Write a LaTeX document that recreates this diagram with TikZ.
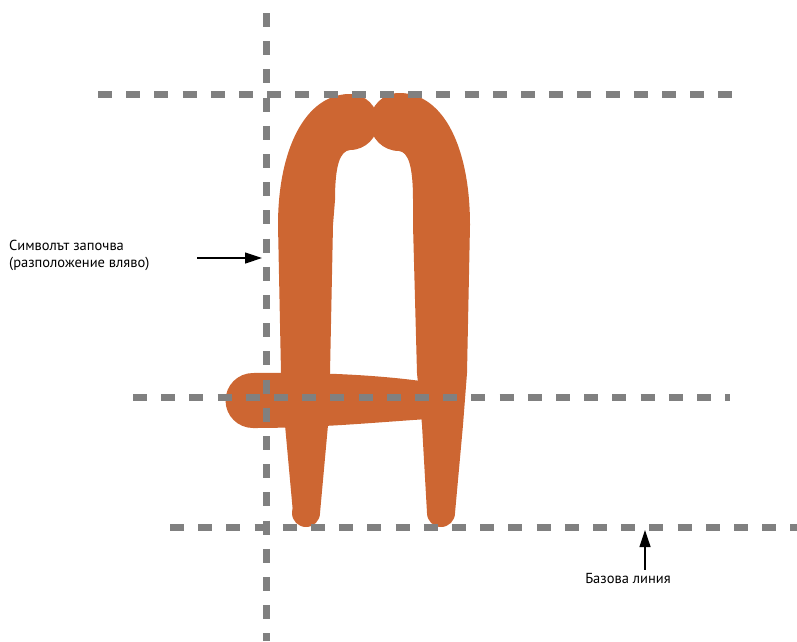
\documentclass[tikz,border=0pt]{standalone}
\usepackage{fontspec}
\setmainfont{PT Sans}
\usetikzlibrary{arrows.meta}
\definecolor{glyphc}{RGB}{205,102,50}
\definecolor{guidec}{RGB}{128,128,128}
\tikzset{
  glyph/.style={fill=glyphc, draw=none},
  guide/.style={draw=guidec, line width=7pt, dash pattern=on 14pt off 14.2pt},
  lbl/.style={inner sep=0pt, font=\fontsize{14.5}{17}\selectfont, text=black},
  pointer/.style={draw=black, line width=1.2pt, -{Triangle[length=17pt,width=11pt]}}
}
\begin{document}
\begin{tikzpicture}[x=1pt,y=-1pt]
\useasboundingbox (0,0) rectangle (797,641);
% glyph
\fill[glyph] (293,513) -- (285,425) -- (281,373) -- (278,225)
  .. controls (278,150) and (305,94) .. (350,94) -- (350,150)
  .. controls (340,151) and (335,165) .. (335,200) -- (333,225) -- (330,373) -- (328,425) -- (320,513) -- cycle;
\fill[glyph] (455,513) -- (463,425) -- (467,373) -- (470,225)
  .. controls (470,150) and (445,93) .. (399,93) -- (399,151)
  .. controls (408,152) and (413,165) .. (413,200) -- (413,225) -- (417,373) -- (422,425) -- (427,513) -- cycle;
\fill[glyph] (350,122) circle[radius=28];
\fill[glyph] (399,122) circle[radius=29];
\fill[glyph] (306,513) circle[radius=14];
\fill[glyph] (441,513) circle[radius=14];
\fill[glyph] (253,373) .. controls (320,372) and (380,375) .. (428,382) -- (428,419)
  .. controls (380,422) and (320,428) .. (253,428) -- cycle;
\fill[glyph] (253,400.5) circle[radius=27.5];
% guide lines
\coordinate (vTop) at (266,13);
\coordinate (vBot) at (266,641);
\coordinate (hAs) at (98,94);
\coordinate (hAe) at (732,94);
\coordinate (hMs) at (133,397);
\coordinate (hMe) at (730,397);
\coordinate (hBs) at (170,527);
\coordinate (hBe) at (797,527);
\draw[guide] (vTop) -- (vBot);
\draw[guide] (hAs) -- (hAe);
\draw[guide] (hMs) -- (hMe);
\draw[guide] (hBs) -- (hBe);
% labels
\node[lbl, anchor=base west] (l1) at (9,250) {Символът започва};
\node[lbl, anchor=base west] (l2) at (9,267) {(разположение вляво)};
\node[lbl, anchor=base] (l3) at (628,583) {Базова линия};
% pointers
\coordinate (p1s) at (197,258);
\coordinate (p1e) at (262,258);
\coordinate (p2e) at (645,530);
\draw[pointer] (p1s) -- (p1e);
\draw[pointer] (l3.north -| p2e) ++(0,-3) coordinate (p2s) (p2s) -- (p2e);
\end{tikzpicture}
\end{document}
